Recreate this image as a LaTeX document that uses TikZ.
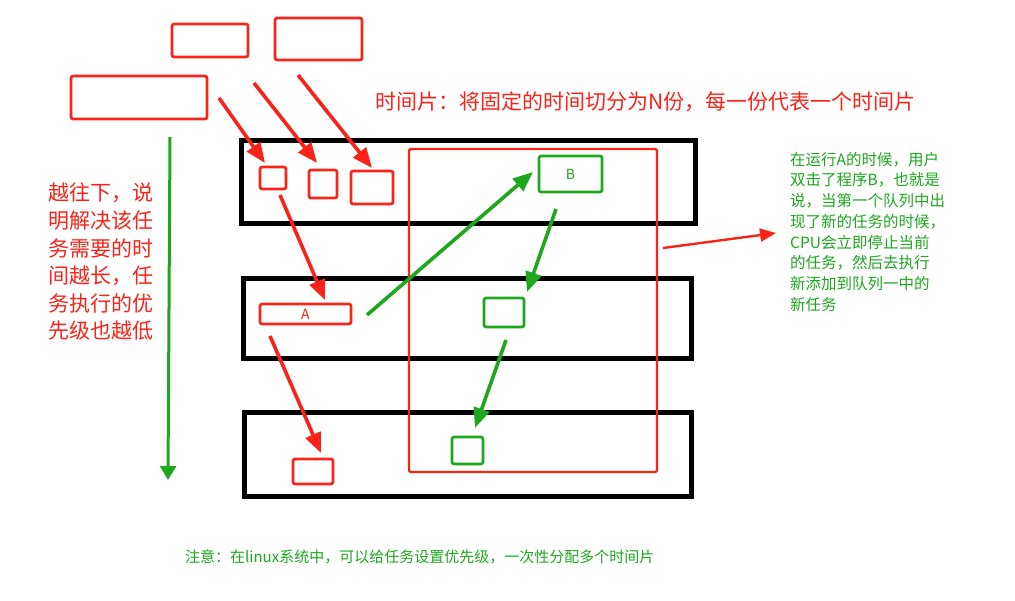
\documentclass[tikz,border=0pt]{standalone}
\usepackage{fontspec}
\newfontfamily\cjk{Noto Sans CJK SC}
\usetikzlibrary{arrows.meta}
\definecolor{tred}{RGB}{250,35,25}
\definecolor{tgreen}{RGB}{30,168,30}
\tikzset{
  rbox/.style={draw=tred, line width=2.6pt, rounded corners=2pt, inner sep=0pt,
    font=\cjk\fontsize{14}{14}\selectfont, text=tred},
  gbox/.style={rbox, draw=tgreen, text=tgreen},
  row/.style={draw=black, line width=5pt, inner sep=0pt},
  zone/.style={draw=tred, line width=2.4pt, rounded corners=1.5pt, inner sep=0pt},
  rarr/.style={-{Triangle[length=20pt,width=16pt]}, draw=tred, line width=3.6pt},
  garr/.style={rarr, draw=tgreen},
  note/.style={font=\cjk, align=left, inner sep=0pt}
}
\begin{document}
\begin{tikzpicture}[x=1pt, y=-1pt]
  \useasboundingbox[fill=white] (0,0) rectangle (1015,601);
  % queues
  \node[row, minimum width=453.5, minimum height=83.5] (q1) at (468.25,182.25) {};
  \node[row, minimum width=448, minimum height=80] (q2) at (467,319) {};
  \node[row, minimum width=447.5, minimum height=83] (q3) at (467.75,454.5) {};
  \node[zone, minimum width=248, minimum height=323] (slice) at (533,310.5) {};
  % waiting tasks
  \node[rbox, minimum width=76, minimum height=33] (t1) at (210,40.5) {};
  \node[rbox, minimum width=87, minimum height=42] (t2) at (318.5,39) {};
  \node[rbox, minimum width=136, minimum height=43] (t3) at (139,97.5) {};
  % tasks in the queues
  \node[rbox, minimum width=26, minimum height=22] (s1) at (273,178) {};
  \node[rbox, minimum width=28, minimum height=28] (s2) at (323,184) {};
  \node[rbox, minimum width=42, minimum height=33] (s3) at (372,187.5) {};
  \node[rbox, minimum width=91, minimum height=20] (ta) at (305.5,314) {A};
  \node[rbox, minimum width=40, minimum height=25] (tlow) at (313,471.5) {};
  \node[gbox, minimum width=63, minimum height=36] (tb) at (570.5,174) {B};
  \node[gbox, minimum width=40, minimum height=29] (tb2) at (504,312.5) {};
  \node[gbox, minimum width=31, minimum height=27] (tb3) at (467.5,450.5) {};
  % free arrow ends
  \coordinate (a1s) at (219,98);  \coordinate (a1e) at (265,163);
  \coordinate (a2s) at (254,83);  \coordinate (a2e) at (317,163);
  \coordinate (a3s) at (298,75);  \coordinate (a3e) at (372,168);
  \coordinate (a4s) at (280,195); \coordinate (a4e) at (325,300);
  \coordinate (a5s) at (270,336); \coordinate (a5e) at (321,453);
  \coordinate (a6s) at (663,248); \coordinate (a6e) at (776,233);
  \coordinate (g1s) at (367,315); \coordinate (g1e) at (533,172);
  \coordinate (g2s) at (556,209); \coordinate (g2e) at (527,292);
  \coordinate (g3s) at (506,340); \coordinate (g3e) at (475,428);
  \coordinate (g4s) at (170,137); \coordinate (g4e) at (168,480);
  \draw[rarr] (a1s) -- (a1e);
  \draw[rarr] (a2s) -- (a2e);
  \draw[rarr] (a3s) -- (a3e);
  \draw[rarr] (a4s) -- (a4e);
  \draw[rarr] (a5s) -- (a5e);
  \draw[rarr, line width=2.4pt, -{Triangle[length=16pt,width=13pt]}] (a6s) -- (a6e);
  \draw[garr] (g1s) -- (g1e);
  \draw[garr] (g2s) -- (g2e);
  \draw[garr] (g3s) -- (g3e);
  \draw[garr, line width=3pt, -{Triangle[length=14pt,width=16pt]}] (g4s) -- (g4e);
  % texts
  \node[note, anchor=west, text=tred, font=\cjk\fontsize{21}{24}\selectfont] (title) at (375,102)
    {时间片：将固定的时间切分为N份，每一份代表一个时间片};
  \node[note, anchor=north west, text=tred, font=\cjk\fontsize{21}{27.6}\selectfont] (prio) at (48,183)
    {越往下，说\\明解决该任\\务需要的时\\间越长，任\\务执行的优\\先级也越低};
  \node[note, anchor=north west, text=tgreen, font=\cjk\fontsize{15.5}{20.7}\selectfont] (expl) at (790,152)
    {在运行A的时候，用户\\双击了程序B，也就是\\说，当第一个队列中出\\现了新的任务的时候，\\CPU会立即停止当前\\的任务，然后去执行\\新添加到队列一中的\\新任务};
  \node[note, anchor=west, text=tgreen, font=\cjk\fontsize{15}{18}\selectfont] (hint) at (185,557)
    {注意：在linux系统中，可以给任务设置优先级，一次性分配多个时间片};
\end{tikzpicture}
\end{document}
